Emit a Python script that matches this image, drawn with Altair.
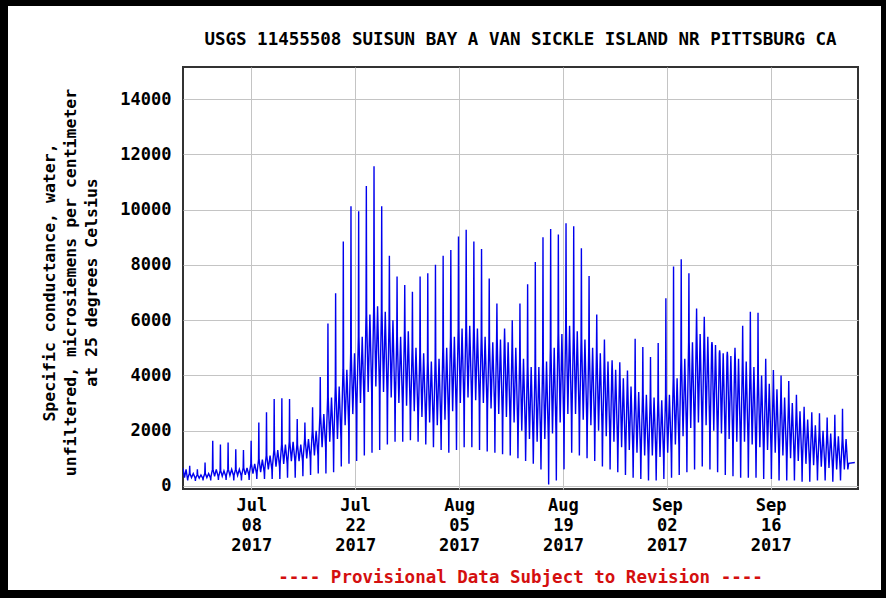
import altair as alt
import pandas as pd

TITLE = "USGS 11455508 SUISUN BAY A VAN SICKLE ISLAND NR PITTSBURG CA"
Y_TITLE = [
    "Specific conductance, water,",
    "unfiltered, microsiemens per centimeter",
    "at 25 degrees Celsius",
]
FOOTER = "---- Provisional Data Subject to Revision ----"
Y_TICKS = [0, 2000, 4000, 6000, 8000, 10000, 12000, 14000]
TICK_DAYS = [(7, 8), (7, 22), (8, 5), (8, 19), (9, 2), (9, 16)]

# Specific conductance (uS/cm) per tidal day, starting 2017-06-29
higher_high = [
    730, 600, 850, 1640, 1500, 1575, 1330, 1300, 1640, 2300,
    2670, 3150, 3175, 3150, 2420, 2300, 2850, 3940, 5880, 6970,
    8850, 10120, 9940, 10850, 11570, 10120, 8330, 7575, 7270, 7030,
    7575, 7700, 8000, 8330, 8540, 9030, 9270, 8850, 8570, 7510,
    6600, 5700, 6000, 6600, 7300, 8100, 9000, 9300, 9100, 9510,
    9400, 8600, 7600, 6200, 5300, 4545, 4480, 4180, 5330, 5030,
    4670, 5175, 6790, 7940, 8200, 7700, 6420, 6120, 5210, 4910,
    4850, 5000, 5800, 6300, 6270, 4600, 4200, 4000, 3800, 3300,
    2870, 2670, 2630, 2480, 2580, 2790,
]
lower_high = [
    450, 400, 450, 600, 550, 600, 600, 650, 800, 950,
    1100, 1300, 1500, 1600, 1500, 1700, 2000, 2600, 3200, 3600,
    4200, 4800, 5400, 6200, 6500, 6300, 6000, 5400, 5600, 5000,
    4800, 4500, 4600, 5000, 5400, 5700, 5800, 5700, 5400, 5200,
    5300, 5200, 5000, 4600, 4300, 4300, 4500, 5000, 5500, 5800,
    5600, 5300, 5000, 4800, 4500, 4200, 3900, 3600, 3400, 3300,
    3200, 3100, 3300, 3900, 4600, 5200, 5500, 5400, 5100, 4800,
    4700, 4600, 4500, 4300, 4000, 3700, 3500, 3200, 3000, 2700,
    2400, 2200, 2000, 1900, 1800, 1700,
]
higher_low = [
    300, 280, 300, 350, 350, 380, 380, 400, 450, 500,
    600, 700, 800, 900, 900, 1000, 1100, 1400, 1600, 1700,
    2200, 2600, 3000, 3400, 3600, 3400, 3200, 3000, 2900, 2700,
    2500, 2300, 2200, 2400, 2700, 3000, 3200, 3100, 3000, 2800,
    2600, 2500, 2300, 2000, 1700, 1600, 1700, 1900, 2300, 2600,
    2600, 2400, 2200, 2000, 1800, 1600, 1400, 1300, 1200, 1100,
    1100, 1050, 1200, 1500, 1800, 2100, 2300, 2200, 2000, 1900,
    1700, 1600, 1600, 1500, 1400, 1300, 1200, 1100, 1000, 900,
    800, 750, 700, 650, 600, 600,
]
lower_low = [
    200, 180, 200, 200, 220, 220, 200, 200, 220, 250,
    250, 250, 250, 300, 300, 350, 400, 450, 450, 500,
    700, 800, 900, 1100, 1200, 1300, 1500, 1600, 1600, 1650,
    1600, 1500, 1400, 1300, 1200, 1300, 1400, 1400, 1300, 1250,
    1200, 1150, 1100, 1000, 900, 800, 600, 50, 200, 600,
    1200, 1100, 1000, 900, 700, 600, 500, 400, 300, 250,
    200, 200, 250, 300, 400, 500, 600, 700, 600, 500,
    400, 350, 300, 300, 300, 250, 250, 200, 200, 200,
    150, 150, 200, 200, 150, 200,
]

lead_times = ["2017-06-28T19:00", "2017-06-29T00:00", "2017-06-29T05:00"]
lead_values = [650, 300, 600]
tail_times = ["2017-09-26T12:00", "2017-09-27T08:00"]
tail_values = [820, 850]

first_cycle = pd.Timestamp("2017-06-29T10:15")
tidal_day_hours = 24.84
# order of readings within one tidal day: (series, hour offset)
cycle_shape = [
    ("ll", 0.0), ("hl", 1.0), ("lh", 5.5), ("hh", 6.5),
    ("lh", 7.5), ("hl", 12.4), ("lh", 18.0), ("hl", 23.8),
]

series = {"hh": higher_high, "lh": lower_high, "hl": higher_low, "ll": lower_low}
rows = [{"time": pd.Timestamp(t), "value": v} for t, v in zip(lead_times, lead_values)]
for k in range(len(higher_high)):
    start = first_cycle + pd.Timedelta(hours=k * tidal_day_hours)
    for name, hrs in cycle_shape:
        rows.append({"time": start + pd.Timedelta(hours=hrs), "value": series[name][k]})
rows += [{"time": pd.Timestamp(t), "value": v} for t, v in zip(tail_times, tail_values)]
df = pd.DataFrame(rows)
df["time"] = df["time"].dt.strftime("%Y-%m-%dT%H:%M:%S")

W, H = 675, 422
FONT = "DejaVu Sans Mono"

x_axis = alt.Axis(
    values=[alt.DateTime(year=2017, month=m, date=d) for m, d in TICK_DAYS],
    labelExpr="[timeFormat(datum.value, '%b'), timeFormat(datum.value, '%d'), timeFormat(datum.value, '%Y')]",
    title=None,
    labelLineHeight=20,
    labelPadding=8,
    labelBaseline="top",
)
y_axis = alt.Axis(
    values=Y_TICKS,
    format="d",
    title=Y_TITLE,
    titleAngle=-90,
    titleAlign="center",
    titleBaseline="middle",
    titleX=-134,
    titleY=H / 2 + 4,
    titleLineHeight=21,
    titleFontSize=16.5,
    labelPadding=12,
)

line = alt.Chart(df).mark_line(color="#0000ee", strokeWidth=1.4, clip=True).encode(
    x=alt.X(
        "time:T",
        scale=alt.Scale(
            domain=[
                alt.DateTime(year=2017, month=6, date=28, hours=19, minutes=5),
                alt.DateTime(year=2017, month=9, date=27, hours=18, minutes=15),
            ],
            nice=False,
        ),
        axis=x_axis,
    ),
    y=alt.Y(
        "value:Q",
        scale=alt.Scale(domain=[-110, 15160], nice=False, zero=False),
        axis=y_axis,
    ),
)

# black picture frame around the whole graphic
frame_df = pd.DataFrame({
    "x": [-183, -183, 698, -183],
    "x2": [-175, 703, 703, 703],
    "y": [-67, -67, -67, 523],
    "y2": [531, -61, 531, 531],
})
frame = alt.Chart(frame_df).mark_rect(color="black").encode(
    x=alt.X("x:Q", scale=None),
    x2="x2:Q",
    y=alt.Y("y:Q", scale=None),
    y2="y2:Q",
)

title_df = pd.DataFrame({"tx": [W / 2], "ty": [-27], "label": [TITLE]})
title = alt.Chart(title_df).mark_text(
    font=FONT, fontSize=17.5, fontWeight="bold", color="black", align="center", baseline="middle"
).encode(x=alt.X("tx:Q", scale=None), y=alt.Y("ty:Q", scale=None), text="label:N")

footer_df = pd.DataFrame({"tx": [W / 2], "ty": [511], "label": [FOOTER]})
footer = alt.Chart(footer_df).mark_text(
    font=FONT, fontSize=17.5, fontWeight="bold", color="#d40f0f", align="center", baseline="middle"
).encode(x=alt.X("tx:Q", scale=None), y=alt.Y("ty:Q", scale=None), text="label:N")

chart = (
    alt.layer(line, frame, title, footer)
    .properties(
        width=W,
        height=H,
        autosize=alt.AutoSizeParams(type="none"),
        padding={"left": 183, "top": 67, "right": 28, "bottom": 109},
        background="white",
    )
    .configure_view(stroke="#333333", strokeWidth=2)
    .configure_axis(
        domain=False,
        ticks=False,
        grid=True,
        gridColor="#c4c4c4",
        gridWidth=1,
        labelFont=FONT,
        labelFontSize=17,
        labelFontWeight="bold",
        labelColor="black",
        titleFont=FONT,
        titleFontWeight="bold",
        titleColor="black",
    )
)

chart.save("out.html", embed_options={"renderer": "svg", "actions": False})
